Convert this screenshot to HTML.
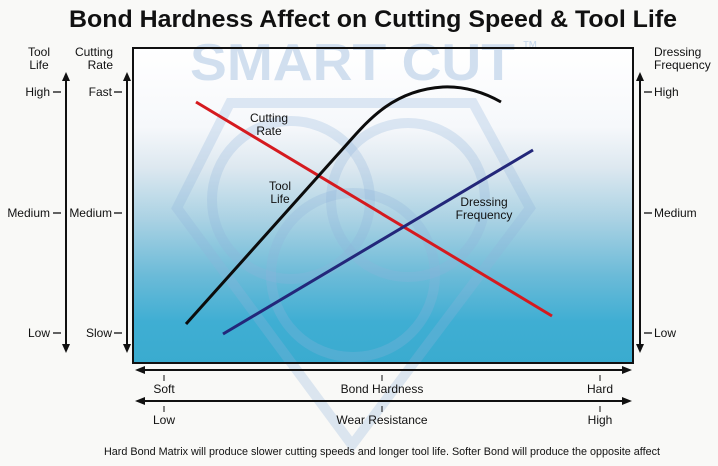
<!DOCTYPE html>
<html><head><meta charset="utf-8"><style>
html,body{margin:0;padding:0;background:#f9f9f7;}
svg{display:block;}
text{font-family:"Liberation Sans",Arial,sans-serif;fill:#111;}
</style></head><body>
<svg width="718" height="466" viewBox="0 0 718 466" xmlns="http://www.w3.org/2000/svg">
<defs>
<linearGradient id="bg" x1="0" y1="48" x2="0" y2="363" gradientUnits="userSpaceOnUse">
<stop offset="0" stop-color="#ffffff"/>
<stop offset="0.25" stop-color="#f6f8fb"/>
<stop offset="0.38" stop-color="#dde8f0"/>
<stop offset="0.55" stop-color="#a8d1e3"/>
<stop offset="0.72" stop-color="#6cbbd8"/>
<stop offset="0.87" stop-color="#3faed3"/>
<stop offset="1" stop-color="#3aabcf"/>
</linearGradient>
<marker id="ah" viewBox="0 0 10 10" refX="9" refY="5" markerWidth="5" markerHeight="5" orient="auto-start-reverse" markerUnits="userSpaceOnUse">
</marker>
</defs>
<rect x="0" y="0" width="718" height="466" fill="#f9f9f7"/>
<!-- chart box -->
<rect x="133" y="48" width="500" height="315" fill="url(#bg)"/>
<!-- watermark -->
<g fill="none" stroke="#8fb4dc" stroke-opacity="0.28" stroke-width="10">
<path d="M230,103 L473,103 L530,208 L352,445 L177,208 Z"/>
<circle cx="291" cy="200" r="79"/>
<circle cx="408" cy="200" r="77"/>
<circle cx="353" cy="275" r="82"/>
</g>
<text x="190" y="80" font-size="52" font-weight="bold" textLength="325" lengthAdjust="spacingAndGlyphs" style="fill:#c9d9ec;fill-opacity:0.85">SMART CUT</text>
<text x="522" y="52" font-size="16" style="fill:#c9d9ec">™</text>
<rect x="133" y="48" width="500" height="315" fill="none" stroke="#111" stroke-width="2"/>
<!-- series -->
<line x1="196" y1="102" x2="552" y2="316" stroke="#d51a1f" stroke-width="3"/>
<path d="M186,324 L348,143 C370,118 395,90 443,87 C465,86 485,93 501,102" fill="none" stroke="#0c0c0c" stroke-width="3"/>
<line x1="223" y1="334" x2="533" y2="150" stroke="#23277a" stroke-width="3"/>
<!-- series labels -->
<g font-size="12" text-anchor="middle">
<text x="269" y="122">Cutting</text>
<text x="269" y="135">Rate</text>
<text x="280" y="190">Tool</text>
<text x="280" y="203">Life</text>
<text x="484" y="206">Dressing</text>
<text x="484" y="219">Frequency</text>
</g>
<!-- title -->
<text x="69" y="27" font-size="24" font-weight="bold" textLength="608" lengthAdjust="spacingAndGlyphs">Bond Hardness Affect on Cutting Speed &amp; Tool Life</text>
<!-- left axes -->
<g font-size="12">
<text x="39" y="56" text-anchor="middle">Tool</text>
<text x="39" y="69" text-anchor="middle">Life</text>
<text x="113" y="56" text-anchor="end">Cutting</text>
<text x="113" y="69" text-anchor="end">Rate</text>
<text x="654" y="56">Dressing</text>
<text x="654" y="69">Frequency</text>
<text x="50" y="96" text-anchor="end">High</text>
<text x="50" y="217" text-anchor="end">Medium</text>
<text x="50" y="337" text-anchor="end">Low</text>
<text x="112" y="96" text-anchor="end">Fast</text>
<text x="112" y="217" text-anchor="end">Medium</text>
<text x="112" y="337" text-anchor="end">Slow</text>
<text x="654" y="96">High</text>
<text x="654" y="217">Medium</text>
<text x="654" y="337">Low</text>
</g>
<g stroke="#111" stroke-width="1.3">
<line x1="53" y1="92" x2="61" y2="92"/>
<line x1="53" y1="213" x2="61" y2="213"/>
<line x1="53" y1="333" x2="61" y2="333"/>
<line x1="114" y1="92" x2="122" y2="92"/>
<line x1="114" y1="213" x2="122" y2="213"/>
<line x1="114" y1="333" x2="122" y2="333"/>
<line x1="644" y1="92" x2="652" y2="92"/>
<line x1="644" y1="213" x2="652" y2="213"/>
<line x1="644" y1="333" x2="652" y2="333"/>
</g>
<g stroke="#111" stroke-width="2">
<line x1="66" y1="80" x2="66" y2="345"/>
<line x1="127" y1="80" x2="127" y2="345"/>
<line x1="640" y1="80" x2="640" y2="345"/>
<line x1="143" y1="370" x2="624" y2="370"/>
<line x1="143" y1="401" x2="624" y2="401"/>
</g>
<g fill="#111">
<path d="M66,72 L62,81 L70,81 Z"/><path d="M66,353 L62,344 L70,344 Z"/>
<path d="M127,72 L123,81 L131,81 Z"/><path d="M127,353 L123,344 L131,344 Z"/>
<path d="M640,72 L636,81 L644,81 Z"/><path d="M640,353 L636,344 L644,344 Z"/>
<path d="M135,370 L145,366 L145,374 Z"/><path d="M632,370 L622,366 L622,374 Z"/>
<path d="M135,401 L145,397 L145,405 Z"/><path d="M632,401 L622,397 L622,405 Z"/>
</g>
<g stroke="#111" stroke-width="1">
<line x1="164" y1="375" x2="164" y2="381"/>
<line x1="382" y1="375" x2="382" y2="381"/>
<line x1="600" y1="375" x2="600" y2="381"/>
<line x1="164" y1="406" x2="164" y2="412"/>
<line x1="382" y1="406" x2="382" y2="412"/>
<line x1="600" y1="406" x2="600" y2="412"/>
</g>
<g font-size="12" text-anchor="middle">
<text x="164" y="393">Soft</text>
<text x="382" y="393">Bond Hardness</text>
<text x="600" y="393">Hard</text>
<text x="164" y="424">Low</text>
<text x="382" y="424">Wear Resistance</text>
<text x="600" y="424">High</text>
</g>
<text x="104" y="455" font-size="11" textLength="556" lengthAdjust="spacingAndGlyphs">Hard Bond Matrix will produce slower cutting speeds and longer tool life. Softer Bond will produce the opposite affect</text>
</svg>
</body></html>
